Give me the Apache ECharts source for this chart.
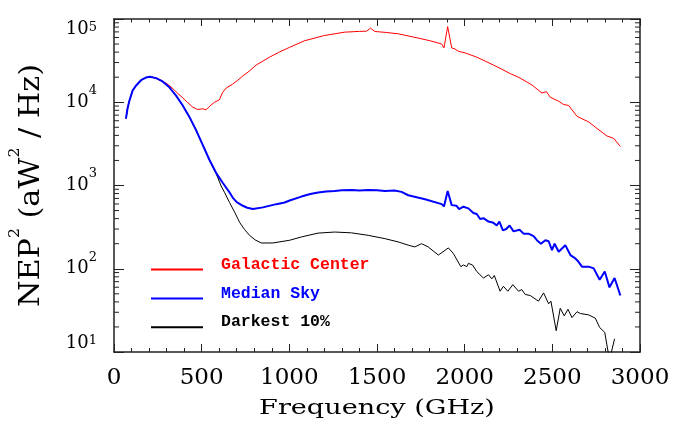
<!DOCTYPE html>
<html>
<head>
<meta charset="utf-8">
<script src="https://cdn.jsdelivr.net/npm/echarts@6/dist/echarts.min.js"></script>
<style>html,body{margin:0;padding:0;background:#fff}#c{width:678px;height:423px}</style>
</head>
<body>
<div id="c"></div>
<script>
// ---- data (frequency in GHz, NEP^2 in aW^2/Hz) ----
const galacticFreq = [68,77,87,106,125,154,182,205,240,277,297,325,344,363,392,420,449,477,506,525,544,573,601,620,640,677,706,735,773,811,849,887,945,1002,1087,1201,1316,1400,1440,1463,1488,1550,1621,1735,1802,1869,1882,1903,1926,1945,1964,2002,2069,2117,2164,2212,2260,2317,2384,2441,2466,2488,2536,2564,2593,2641,2660,2707,2755,2812,2850,2888];
const galacticVal  = [6360,8360,10300,13800,15800,18400,19800,20200,19500,17800,17000,15300,14000,12800,11300,9910,8750,8180,8350,8100,8900,10000,10700,13200,14800,16500,18400,20700,23800,28000,31200,34800,40300,45700,54800,63400,69500,71000,71400,77600,70800,69000,66400,59000,54800,50100,45000,81100,45000,43600,41000,39200,34800,31200,28000,24900,22100,19500,16100,12900,13400,11500,10300,9400,9150,6770,6470,5810,4840,3930,3680,2940];

const medianFreq = [68,77,87,106,125,154,182,205,240,277,316,354,392,430,468,506,544,582,620,640,660,677,700,735,760,792,849,926,973,1002,1069,1120,1164,1210,1259,1300,1354,1400,1450,1500,1545,1600,1640,1678,1774,1869,1882,1903,1926,1954,1968,1993,2021,2050,2069,2088,2107,2136,2164,2183,2198,2218,2237,2256,2279,2313,2336,2364,2393,2412,2435,2460,2479,2498,2513,2536,2574,2603,2631,2644,2669,2707,2736,2770,2799,2826,2855,2888];
const medianVal  = [6360,8360,10300,13800,15800,18400,19800,20200,19500,17800,15100,12000,9140,6670,4630,3070,2040,1420,1080,940,820,716,630,571,540,521,546,597,625,660,736,790,822,845,861,875,885,870,885,878,861,870,838,764,684,597,561,861,581,570,521,556,531,467,454,396,405,369,356,331,369,289,300,331,281,294,264,264,247,220,200,220,214,167,200,160,192,146,133,125,106,106,101,73.8,92.7,59.8,77.3,47.7];

const darkestFreq = [68,77,87,106,125,154,182,205,240,277,316,354,392,430,468,506,544,582,611,630,659,690,716,745,773,805,840,906,1002,1069,1164,1259,1354,1450,1545,1621,1678,1716,1754,1792,1850,1907,1935,1978,1993,2012,2021,2045,2069,2107,2136,2155,2169,2202,2221,2246,2275,2307,2326,2345,2374,2421,2450,2479,2492,2522,2545,2568,2589,2612,2641,2660,2707,2745,2770,2799,2826,2855];
const darkestVal  = [6360,8360,10300,13800,15800,18400,19800,20200,19500,17800,15100,12000,9140,6670,4630,3070,2040,1400,987,830,625,470,362,295,252,222,204,204,220,241,268,276,270,252,230,210,192,183,200,183,146,178,153,106,111,106,116,111,92.7,77.3,84.7,75.6,83,53.7,61.5,53.7,64.4,53.7,56.2,49.1,47.7,40.8,51.3,37.9,40.8,18.0,33.5,27.2,32.6,25.9,30.5,29.0,27.9,25.5,19.7,17.2,8,14.4];

const seriesNames = ['Galactic Center', 'Median Sky', 'Darkest 10%'];
const xTickValues = [0, 500, 1000, 1500, 2000, 2500, 3000];
const yDecades = [10, 100, 1000, 10000, 100000];
const yMinorMultipliers = [2, 3, 4, 5, 6, 7, 8, 9];

// ---- build ----
const zip = (f, v) => f.map((x, i) => [x, v[i]]);
const minorTicks = [];
yDecades.slice(0, -1).forEach(d => yMinorMultipliers.forEach(m => minorTicks.push([0, d * m])));

const AX = '#222';
const serif = 'DejaVu Serif';
const mono = 'Liberation Mono';

const chart = echarts.init(document.getElementById('c'), null, {renderer: 'canvas'});

const baseX = {
  type: 'value', min: xTickValues[0], max: xTickValues[xTickValues.length - 1], interval: 500,
  axisLine: {show: true, onZero: false, lineStyle: {color: AX, width: 1.5}},
  splitLine: {show: false}, minorSplitLine: {show: false}
};
const baseY = {
  type: 'log', logBase: 10, min: yDecades[0], max: yDecades[yDecades.length - 1],
  axisLine: {show: true, onZero: false, lineStyle: {color: AX, width: 1.5}},
  splitLine: {show: false}, minorTick: {show: false}, minorSplitLine: {show: false}
};

chart.setOption({
  animation: false,
  backgroundColor: '#fff',
  grid: {left: 114, right: 38, top: 14, bottom: 71},
  xAxis: [
    Object.assign({}, baseX, {
      position: 'bottom',
      axisTick: {show: true, inside: true, length: 8, lineStyle: {color: AX, width: 1}},
      minorTick: {show: true, splitNumber: 5, length: 4, lineStyle: {color: AX, width: 1}},
      axisLabel: {show: true, color: '#000', fontFamily: serif, fontSize: 23, margin: 15,
        formatter: v => String(v)}
    }),
    Object.assign({}, baseX, {
      position: 'top',
      axisTick: {show: true, inside: true, length: 7, lineStyle: {color: AX, width: 1}},
      minorTick: {show: true, splitNumber: 5, length: 3.5, lineStyle: {color: AX, width: 1}},
      axisLabel: {show: false}
    })
  ],
  yAxis: [
    Object.assign({}, baseY, {
      position: 'left',
      axisTick: {show: true, inside: true, length: 10, lineStyle: {color: AX, width: 1}},
      axisLabel: {
        show: true, margin: 17, color: '#000',
        formatter: v => {
          const e = Math.round(Math.log10(v));
          if (v >= yDecades[yDecades.length - 1] * 0.99) return '{bt|10}{st|' + e + '}';
          if (v <= yDecades[0] * 1.01) return '{bb|10}{sb|' + e + '}';
          return '{b|10}{s|' + e + '}';
        },
        rich: {
          b:  {fontFamily: serif, fontSize: 18, lineHeight: 36, color: '#000'},
          s:  {fontFamily: serif, fontSize: 13, lineHeight: 15, verticalAlign: 'top', color: '#000'},
          bt: {fontFamily: serif, fontSize: 18, lineHeight: 20, padding: [20, 0, 0, 0], color: '#000'},
          st: {fontFamily: serif, fontSize: 13, lineHeight: 15, padding: [12, 0, 0, 0], verticalAlign: 'top', color: '#000'},
          bb: {fontFamily: serif, fontSize: 18, lineHeight: 36, padding: [0, 0, 18, 0], color: '#000'},
          sb: {fontFamily: serif, fontSize: 13, lineHeight: 15, verticalAlign: 'top', color: '#000'}
        }
      }
    }),
    Object.assign({}, baseY, {
      position: 'right',
      axisTick: {show: true, inside: true, length: 10, lineStyle: {color: AX, width: 1}},
      axisLabel: {show: false}
    })
  ],
  legend: {
    orient: 'vertical', left: 145, top: 251,
    itemWidth: 52, itemHeight: 14, itemGap: 9.8,
    selectedMode: false,
    itemStyle: {opacity: 0},
    formatter: '{t|{name}}',
    textStyle: {fontFamily: mono, fontSize: 16.5, fontWeight: 'bold',
      rich: {t: {fontFamily: mono, fontSize: 16.5, fontWeight: 'bold', padding: [0, 0, 10, 13]}}},
    data: [
      {name: seriesNames[0], textStyle: {color: '#ff0000'}},
      {name: seriesNames[1], textStyle: {color: '#0000ff'}},
      {name: seriesNames[2], textStyle: {color: '#000000'}}
    ]
  },
  graphic: [
    {type: 'text', x: 377, y: 408.5, scaleX: 1.29, scaleY: 1,
      style: {text: 'Frequency (GHz)', font: '21px "DejaVu Serif"', fill: '#000', align: 'center', verticalAlign: 'middle'}},
    {type: 'text', x: 31.7, y: 185.5, rotation: Math.PI / 2, scaleX: 1.12, scaleY: 1,
      style: {
        text: '{a|NEP}{s|2}{a| (aW}{s|2}{a| / Hz)}',
        align: 'center', verticalAlign: 'middle', fill: '#000',
        rich: {
          a: {fontFamily: serif, fontSize: 27, lineHeight: 46, fill: '#000'},
          s: {fontFamily: serif, fontSize: 14, lineHeight: 16, verticalAlign: 'top', fill: '#000'}
        }
      }}
  ],
  series: [
    {type: 'custom', silent: true, xAxisIndex: 0, yAxisIndex: 0, data: minorTicks, encode: {x: 0, y: 1},
      renderItem: (params, api) => {
        const v = api.value(1);
        const l = api.coord([xTickValues[0], v]);
        const r = api.coord([xTickValues[xTickValues.length - 1], v]);
        return {type: 'group', children: [
          {type: 'line', shape: {x1: l[0], y1: l[1], x2: l[0] + 5, y2: l[1]}, style: {stroke: AX, lineWidth: 1}},
          {type: 'line', shape: {x1: r[0] - 5, y1: r[1], x2: r[0], y2: r[1]}, style: {stroke: AX, lineWidth: 1}}
        ]};
      }},
    {name: seriesNames[2], type: 'line', data: zip(darkestFreq, darkestVal), showSymbol: false, symbol: 'none',
      clip: true, color: '#000000', lineStyle: {color: '#000000', width: 1}, z: 3},
    {name: seriesNames[0], type: 'line', data: zip(galacticFreq, galacticVal), showSymbol: false, symbol: 'none',
      clip: true, color: '#ff0000', lineStyle: {color: '#ff0000', width: 1}, z: 4},
    {name: seriesNames[1], type: 'line', data: zip(medianFreq, medianVal), showSymbol: false, symbol: 'none',
      clip: true, color: '#0000ff', lineStyle: {color: '#0000ff', width: 2}, z: 5}
  ]
});
</script>
</body>
</html>
